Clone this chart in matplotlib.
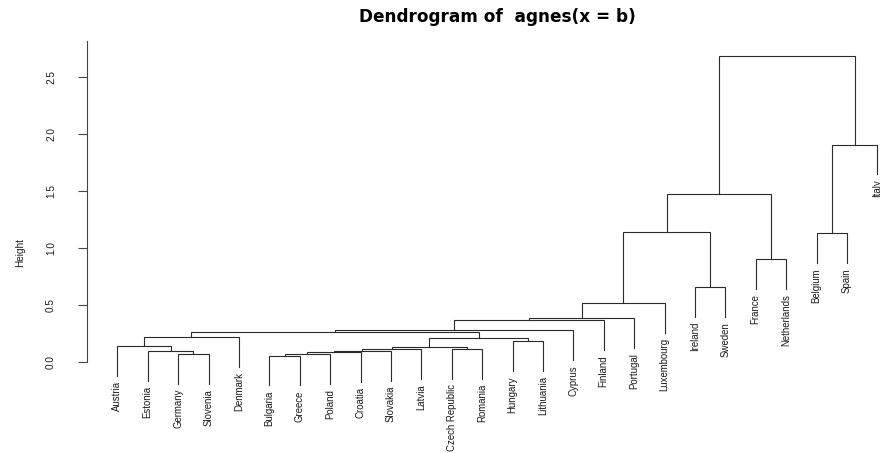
import matplotlib
matplotlib.use("Agg")
import matplotlib.pyplot as plt

# leaves in the order they appear along the x axis
labels = ["Austria", "Estonia", "Germany", "Slovenia", "Denmark", "Bulgaria",
          "Greece", "Poland", "Croatia", "Slovakia", "Latvia", "Czech Republic",
          "Romania", "Hungary", "Lithuania", "Cyprus", "Finland", "Portugal",
          "Luxembourg", "Ireland", "Sweden", "France", "Netherlands", "Belgium",
          "Spain", "Italy"]

# agglomeration steps, R style: -k is leaf k, +k is the cluster built at step k
merge_a = [-6, -3, 1, 3, -2, 4, 6, -12, 7, -1, -14, 9, 10, 13, 14,
           15, 16, 17, -20, -22, -24, 18, 22, 21, 23]
merge_b = [-7, -4, -8, -9, 2, -10, -11, -13, 8, 5, -15, 11, -5, 12, -16,
           -17, -18, -19, -21, -23, -25, 19, 20, -26, 24]
merge_height = [0.054, 0.068, 0.070, 0.082, 0.091, 0.095, 0.108, 0.110, 0.132,
                0.138, 0.180, 0.206, 0.215, 0.258, 0.276, 0.366, 0.380, 0.512,
                0.655, 0.900, 1.128, 1.140, 1.471, 1.905, 2.680]

yticks = [0.0, 0.5, 1.0, 1.5, 2.0, 2.5]

font = "Liberation Sans"
txt_col = "#1a1a1a"
line_col = "#2a2a2a"

fig = plt.figure(figsize=(8.8, 4.53), dpi=100)
ax = fig.add_axes([0.09875, 0.12605, 0.93273, 0.79272])
ax.set_xlim(0, 27)
ax.set_ylim(-0.3, 2.85)

# leaves hang below their first merge by a tenth of the height range
hang = 0.1 * (max(merge_height) - min(merge_height))
node_x = {}
for step, (a, b, h) in enumerate(zip(merge_a, merge_b, merge_height), start=1):
    ends = []
    for child in (a, b):
        if child < 0:
            cx, cy = -child, h - hang
            ax.annotate(labels[-child - 1], (cx, cy), xytext=(0, -5),
                        textcoords="offset pixels", rotation=90,
                        ha="center", va="top", fontsize=6.9,
                        family=font, color=txt_col)
        else:
            cx, cy = node_x[child], merge_height[child - 1]
        ends.append((cx, cy))
    (xa, ya), (xb, yb) = ends
    ax.plot([xa, xa, xb, xb], [ya, h, h, yb], color=line_col, lw=0.8,
            solid_joinstyle="miter", clip_on=False)
    node_x[step] = (xa + xb) / 2

for side in ("top", "right", "bottom"):
    ax.spines[side].set_visible(False)
ax.spines["left"].set_bounds(0, 2.81)
ax.spines["left"].set_color("#444444")
ax.spines["left"].set_linewidth(0.8)
ax.set_xticks([])
ax.set_yticks(yticks)
ax.set_yticklabels([f"{t:.1f}" for t in yticks], rotation=90, va="center",
                   family=font, fontsize=7.2, color=txt_col)
ax.tick_params(axis="y", length=6.7, width=0.8, color="#444444", pad=15.5)

ax.set_ylabel("Height", family=font, fontsize=7.2, color=txt_col)
ax.yaxis.set_label_coords(-0.0754, 0.399)

ax.set_title("Dendrogram of  agnes(x = b)", family="DejaVu Sans",
             fontweight="bold", fontsize=12.2, pad=11)

fig.savefig("out.png", dpi=100)
